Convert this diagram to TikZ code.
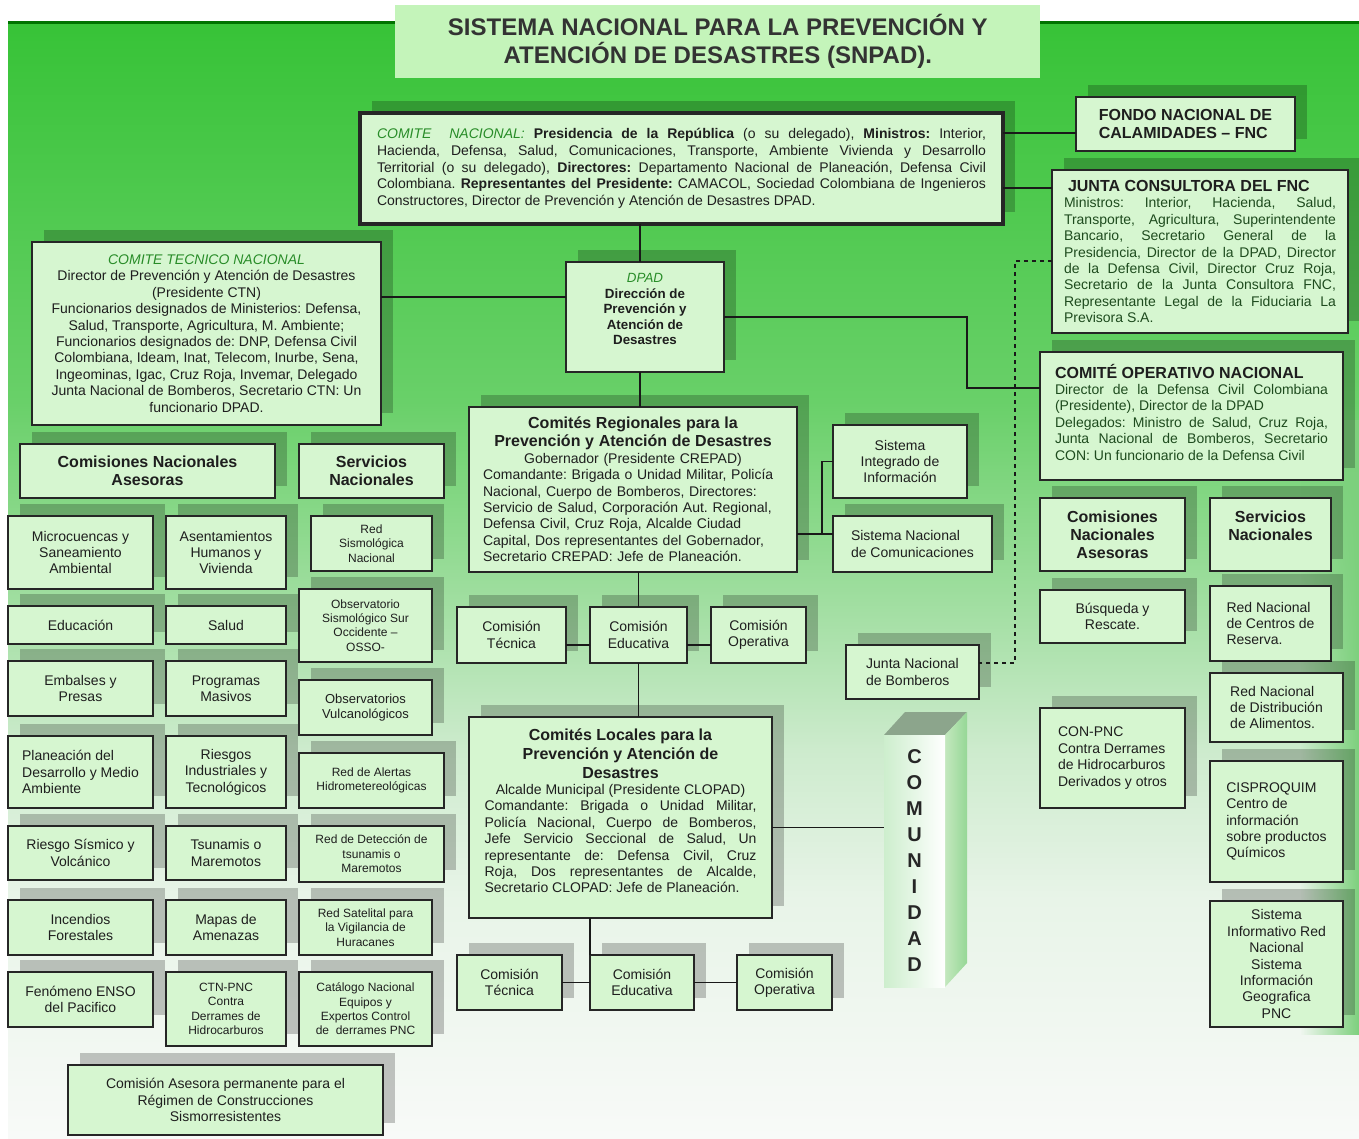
\documentclass[tikz,border=0pt]{standalone}
\usepackage{fontspec}
\setmainfont{Liberation Sans}
\usetikzlibrary{shadows,calc,fadings}
\frenchspacing
\definecolor{boxfill}{RGB}{214,246,208}
\definecolor{titlefill}{RGB}{196,244,186}
\definecolor{lblgreen}{RGB}{40,140,40}
\definecolor{bodygreen}{RGB}{30,75,30}
\definecolor{txtc}{RGB}{30,30,30}
\definecolor{bgtop}{RGB}{55,195,55}
\definecolor{bgcD}{RGB}{105,208,105}
\definecolor{bgcC}{RGB}{160,222,160}
\definecolor{bgcB}{RGB}{205,235,205}
\definecolor{bgcA}{RGB}{232,244,232}
\definecolor{bgbot}{RGB}{248,250,248}
\definecolor{bgright}{RGB}{125,208,125}
\definecolor{comtop}{RGB}{140,165,140}
\definecolor{comsideA}{RGB}{195,232,190}
\definecolor{comsideB}{RGB}{150,215,150}
\definecolor{comfront}{RGB}{205,238,205}
\pgfdeclareverticalshading{bgshade}{100bp}{color(0bp)=(bgbot); color(25bp)=(bgbot); color(35.7bp)=(bgcA); color(42.4bp)=(bgcB); color(49.1bp)=(bgcC); color(58bp)=(bgcD); color(75bp)=(bgtop); color(100bp)=(bgtop)}
\newcommand\fnorm{\fontsize{10.5}{12.3}\selectfont}
\newcommand\fsm{\fontsize{9}{10.8}\selectfont}
\newcommand\fhd{\fontsize{12}{13.5}\selectfont\bfseries}
\newcommand{\mybox}[7][]{\node[bx,anchor=north west,minimum width={(#5-#3)*0.75pt},minimum height={(#6-#4)*0.75pt},#1] (#2) at (#3,#4) {#7};}
\begin{document}
\begin{tikzpicture}[x=0.75pt,y=-0.75pt,
  bx/.style={draw=black!85, fill=boxfill, line width=1.1pt, inner sep=1pt, outer sep=0pt,
    align=center, font=\fnorm, text=txtc,
    drop shadow={shadow xshift=9pt, shadow yshift=9pt, opacity=0.22, fill=black}},
  titlebx/.style={fill=titlefill, inner sep=0pt, align=center, text=black!80,
    font=\fontsize{18}{21}\selectfont\bfseries},
  conn/.style={draw=black!90, line width=1pt}]
\useasboundingbox (0,0) rectangle (1359,1138);
\fill[white] (0,0) rectangle (1359,1138);
\shade[shading=bgshade] (8,22) rectangle (1359,1138);
\fill[bgright, path fading=west] (1300,420) rectangle (1359,1035);
\fill[black!55!green] (8,21) rectangle (1359,24);

% title
\node[titlebx, anchor=north west, minimum width={645*0.75pt}, minimum height={73*0.75pt}] (title) at (395,5)
  {SISTEMA NACIONAL PARA LA PREVENCIÓN Y\\ATENCIÓN DE DESASTRES (SNPAD).};

% top level
\mybox[line width=3pt, text width=456.75pt, align=justify, font=\fontsize{10.5}{12.6}\selectfont]{CN}{360}{113}{1003}{224}{\textcolor{lblgreen}{\itshape COMITE\ \ NACIONAL:} \textbf{Presidencia de la República} (o su delegado), \textbf{Ministros:} Interior,\linebreak Hacienda, Defensa, Salud, Comunicaciones, Transporte, Ambiente Vivienda y Desarrollo\linebreak Territorial (o su delegado), \textbf{Directores:} Departamento Nacional de Planeación, Defensa Civil\linebreak Colombiana. \textbf{Representantes del Presidente:} CAMACOL, Sociedad Colombiana de Ingenieros\linebreak Constructores, Director de Prevención y Atención de Desastres DPAD.}

\mybox[font=\fhd, align=left]{FNC}{1076}{97}{1295}{151}{FONDO NACIONAL DE\\CALAMIDADES – FNC}

\mybox[text width=204pt, align=justify, text=bodygreen]{JC}{1052}{170}{1348}{333}{{\fhd\leavevmode\color{txtc}\hspace*{3pt}JUNTA CONSULTORA DEL FNC\par}Ministros: Interior, Hacienda, Salud,\linebreak Transporte, Agricultura, Superintendente\linebreak Bancario, Secretario General de la\linebreak Presidencia, Director de la DPAD, Director\linebreak de la Defensa Civil, Director Cruz Roja,\linebreak Secretario de la Junta Consultora FNC,\linebreak Representante Legal de la Fiduciaria La\linebreak Previsora S.A.}

\mybox[line width=2.2pt]{CTN}{32}{242}{381}{425}{\textcolor{lblgreen}{\itshape COMITE TECNICO NACIONAL}\\Director de Prevención y Atención de Desastres\\(Presidente CTN)\\Funcionarios designados de Ministerios: Defensa,\\Salud, Transporte, Agricultura, M. Ambiente;\\Funcionarios designados de: DNP, Defensa Civil\\Colombiana, Ideam, Inat, Telecom, Inurbe, Sena,\\Ingeominas, Igac, Cruz Roja, Invemar, Delegado\\Junta Nacional de Bomberos, Secretario CTN: Un\\funcionario DPAD.}

\mybox[line width=2.2pt, font=\fontsize{10}{11.6}\selectfont\bfseries]{DPAD}{566}{262}{724}{372}{\textcolor{lblgreen}{\mdseries\itshape DPAD}\\Dirección de\\Prevención y\\Atención de\\Desastres\\\mbox{}}

\mybox[line width=2.2pt, text width=204.75pt, align=justify, text=bodygreen]{CON}{1040}{352}{1343}{480}{{\fhd\leavevmode\color{txtc}COMITÉ OPERATIVO NACIONAL\par}Director de la Defensa Civil Colombiana\linebreak (Presidente), Director de la DPAD\par Delegados: Ministro de Salud, Cruz Roja,\linebreak Junta Nacional de Bomberos, Secretario\linebreak CON: Un funcionario de la Defensa Civil\par\vspace*{6pt}}

% regional
\mybox[text width=225pt, align=left]{REG}{469}{407}{797}{572}{{\centering\fhd Comités Regionales para la\\Prevención y Atención de Desastres\par}{\centering Gobernador (Presidente CREPAD)\par}Comandante: Brigada o Unidad Militar, Policía\\Nacional, Cuerpo de Bomberos, Directores:\\Servicio de Salud, Corporación Aut. Regional,\\Defensa Civil, Cruz Roja, Alcalde Ciudad\\Capital, Dos representantes del Gobernador,\\Secretario CREPAD: Jefe de Planeación.}

\mybox{mSII}{833}{425}{967}{498}{Sistema\\Integrado de\\Información}
\mybox[align=left]{mSNC}{833}{516}{992}{572}{Sistema Nacional\\de Comunicaciones}

\mybox{rgTec}{457}{607}{566}{663}{Comisión\\Técnica}
\mybox{rgEdu}{590}{607}{687}{663}{Comisión\\Educativa}
\mybox{rgOpe}{711}{607}{806}{663}{Comisión\\Operativa}

\mybox[align=left]{mJNB}{846}{645}{979}{699}{Junta Nacional\\de Bomberos}

% local
\mybox[text width=204pt, align=justify]{LOC}{469}{717}{772}{918}{{\centering\fontsize{12}{14.2}\selectfont\bfseries Comités Locales para la\\Prevención y Atención de\\Desastres\par}{\centering Alcalde Municipal (Presidente CLOPAD)\par}Comandante: Brigada o Unidad Militar,\linebreak Policía Nacional, Cuerpo de Bomberos,\linebreak Jefe Servicio Seccional de Salud, Un\linebreak representante de: Defensa Civil, Cruz\linebreak Roja, Dos representantes de Alcalde,\linebreak Secretario CLOPAD: Jefe de Planeación.\par\vspace*{10pt}}

\mybox{loTec}{457}{955}{562}{1010}{Comisión\\Técnica}
\mybox{loEdu}{590}{955}{694}{1010}{Comisión\\Educativa}
\mybox{loOpe}{737}{955}{832}{1010}{Comisión\\Operativa}

% comunidad
\fill[comtop] (884,735) -- (905,712) -- (967,712) -- (945,735) -- cycle;
\shade[left color=comsideA, right color=comsideB] (945,735) -- (967,712) -- (967,963) -- (945,987) -- cycle;
\node[anchor=north west, minimum width={61*0.75pt}, minimum height={252*0.75pt}, inner sep=0pt, outer sep=0pt,
  left color=comfront, right color=white, align=center, text=black!85,
  font=\fontsize{15}{19.5}\selectfont\bfseries] (COM) at (884,735) {C\\O\\M\\U\\N\\I\\D\\A\\D};

% left headers
\mybox[font=\fhd]{hCom}{20}{444}{275}{498}{Comisiones Nacionales\\Asesoras}
\mybox[font=\fhd]{hSer}{299}{444}{444}{498}{Servicios\\Nacionales}

% left columns
\mybox{cMicro}{8}{516}{153}{589}{Microcuencas y\\Saneamiento\\Ambiental}
\mybox{cAsen}{166}{516}{286}{589}{Asentamientos\\Humanos y\\Vivienda}
\mybox[font=\fsm]{sRed}{311}{516}{432}{571}{Red\\Sismológica\\Nacional}
\mybox{cEdu}{8}{606}{153}{644}{Educación}
\mybox{cSal}{166}{606}{286}{644}{Salud}
\mybox[font=\fsm]{sObs}{299}{589}{432}{662}{Observatorio\\Sismológico Sur\\Occidente –\\OSSO-}
\mybox{cEmb}{8}{661}{153}{716}{Embalses y\\Presas}
\mybox{cProg}{166}{661}{286}{716}{Programas\\Masivos}
\mybox[font=\fontsize{9.75}{11.2}\selectfont]{sVul}{299}{680}{432}{735}{Observatorios\\Vulcanológicos}
\mybox[align=left]{cPlan}{8}{736}{153}{808}{Planeación del\\Desarrollo y Medio\\Ambiente}
\mybox{cRInd}{166}{736}{286}{808}{Riesgos\\Industriales y\\Tecnológicos}
\mybox[font=\fsm]{sAle}{299}{753}{444}{808}{Red de Alertas\\Hidrometereológicas}
\mybox{cSis}{8}{826}{153}{880}{Riesgo Sísmico y\\Volcánico}
\mybox{cTsu}{166}{826}{286}{880}{Tsunamis o\\Maremotos}
\mybox[font=\fsm]{sDet}{299}{826}{444}{882}{Red de Detección de\\tsunamis o\\Maremotos}
\mybox{cInc}{8}{900}{153}{955}{Incendios\\Forestales}
\mybox{cMap}{166}{900}{286}{955}{Mapas de\\Amenazas}
\mybox[font=\fsm]{sSat}{299}{900}{432}{955}{Red Satelital para\\la Vigilancia de\\Huracanes}
\mybox{cEnso}{8}{972}{153}{1027}{Fenómeno ENSO\\del Pacifico}
\mybox[font=\fsm]{cCtn}{166}{972}{286}{1046}{CTN-PNC\\Contra\\Derrames de\\Hidrocarburos}
\mybox[font=\fsm]{sCat}{299}{972}{432}{1046}{Catálogo Nacional\\Equipos y\\Expertos Control\\de\ \ derrames PNC}
\mybox{cAse}{68}{1065}{383}{1135}{Comisión Asesora permanente para el\\Régimen de Construcciones\\Sismorresistentes}

% right columns
\mybox[font=\fhd]{hComR}{1040}{498}{1185}{571}{Comisiones\\Nacionales\\Asesoras}
\mybox[font=\fhd]{hSerR}{1210}{498}{1331}{571}{Servicios\\Nacionales\\\mbox{}}
\mybox{rBus}{1040}{590}{1185}{643}{Búsqueda y\\Rescate.}
\mybox[align=left]{rCen}{1210}{586}{1331}{661}{Red Nacional\\de Centros de\\Reserva.}
\mybox[align=left]{rDis}{1210}{673}{1343}{742}{Red Nacional\\de Distribución\\de Alimentos.}
\mybox[align=left]{rCon}{1040}{708}{1185}{808}{CON-PNC\\Contra Derrames\\de Hidrocarburos\\Derivados y otros}
\mybox[align=left]{rCis}{1210}{761}{1343}{882}{CISPROQUIM\\Centro de\\información\\sobre productos\\Químicos}
\mybox{rSis}{1210}{901}{1343}{1027}{Sistema\\Informativo Red\\Nacional\\Sistema\\Información\\Geografica\\PNC}

% connectors
\coordinate (pF) at ($(FNC.west)+(0,9)$);
\draw[conn] (pF) -- (pF -| CN.east);
\coordinate (pJ) at ($(JC.north west)+(0,18)$);
\draw[conn] (pJ) -- (pJ -| CN.east);
\coordinate (pD) at ($(DPAD.north)+(-5,0)$);
\draw[conn] (pD) -- (pD |- CN.south);
\coordinate (pR) at ($(DPAD.south)+(-5,0)$);
\draw[conn] (pR) -- (pR |- REG.north);
\coordinate (pC) at ($(DPAD.west)+(0,-20)$);
\draw[conn] (pC) -- (pC -| CTN.east);
\coordinate (pO) at ($(CON.north west)+(0,36)$);
\draw[conn] (DPAD.east) -- ++(243,0) |- (pO);
\coordinate (pB) at ($(mJNB.east)+(0,-9)$);
\coordinate (pB2) at ($(JC.north west)+(0,91)$);
\draw[conn, dashed] (pB2) -- ++(-37,0) |- (pB);
\coordinate (pS) at ($(mSNC.west)+(0,-10)$);
\draw[conn] (mSII.west) -- ++(-11,0) |- (pS);
\draw[conn] (pS -| REG.east) -- (pS);
\draw[conn] (rgEdu.north) -- (rgEdu.north |- REG.south);
\coordinate (pE) at ($(rgEdu.west)+(0,10)$);
\draw[conn] (pE) -- (pE -| rgTec.east);
\coordinate (pE2) at ($(rgEdu.east)+(0,10)$);
\draw[conn] (pE2) -- (pE2 -| rgOpe.west);
\draw[conn] (rgEdu.south) -- (rgEdu.south |- LOC.north);
\draw[conn] (loEdu.north west) -- (loEdu.north west |- LOC.south);
\draw[conn] (loEdu.west) -- (loEdu.west -| loTec.east);
\draw[conn] (loEdu.east) -- (loEdu.east -| loOpe.west);
\coordinate (pM) at ($(LOC.east)+(0,10)$);
\draw[conn] (pM) -- (pM -| COM.west);
\end{tikzpicture}
\end{document}
